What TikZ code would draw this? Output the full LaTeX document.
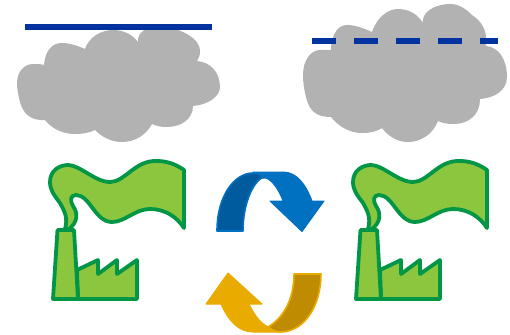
\documentclass[tikz,border=0pt]{standalone}
\usepackage{xcolor}
\definecolor{cloudgray}{RGB}{178,178,178}
\definecolor{capblue}{RGB}{0,51,160}
\definecolor{plantgreen}{RGB}{140,198,63}
\definecolor{plantedge}{RGB}{0,150,70}
\definecolor{arrowblue}{RGB}{0,112,192}
\definecolor{arrowbluedark}{RGB}{0,90,158}
\definecolor{arrowgold}{RGB}{234,171,0}
\definecolor{arrowgolddark}{RGB}{191,139,0}
\tikzset{
  cloudfill/.style={fill=cloudgray},
  capline/.style={draw=capblue,line width=6pt},
  plantpart/.style={draw=plantedge,fill=plantgreen,line width=3.8pt,line join=round},
  bluefront/.style={fill=arrowblue,draw=arrowblue,line width=1pt,line join=round},
  blueback/.style={fill=arrowbluedark,draw=arrowblue,line width=1.6pt,line join=round},
  goldfront/.style={fill=arrowgold,draw=arrowgold,line width=1pt,line join=round},
  goldback/.style={fill=arrowgolddark,draw=arrowgold,line width=1.6pt,line join=round},
}
\begin{document}
\begin{tikzpicture}[x=1pt,y=-1pt]
  \useasboundingbox (0,0) rectangle (510,334);
  % clouds
  \fill[cloudfill] (44,65) .. controls (45,52) and (51,43) .. (62,43)
    .. controls (70,43) and (78,46) .. (85,49) .. controls (89,37) and (101,30) .. (113,30)
    .. controls (124,30) and (133,35) .. (138,42) .. controls (137,32) and (147,27) .. (157,27)
    .. controls (170,26) and (181,30) .. (190,36) .. controls (200,42) and (203,52) .. (197,61)
    .. controls (210,62) and (220,72) .. (220,87) .. controls (220,97) and (207,105) .. (193,106)
    .. controls (193,119) and (181,127) .. (167,127) .. controls (161,127) and (156,126) .. (152,124)
    .. controls (146,135) and (135,142) .. (122,142) .. controls (111,142) and (102,137) .. (95,130)
    .. controls (89,133) and (82,134) .. (75,134) .. controls (63,134) and (52,129) .. (45,120)
    .. controls (30,121) and (23,113) .. (20,102) .. controls (18,94) and (17,88) .. (17,83)
    .. controls (17,72) and (24,64) .. (33,64) .. controls (37,64) and (41,64) .. (44,65) -- cycle;
  \fill[cloudfill] (331,50) .. controls (331,40) and (335,25) .. (347,25)
    .. controls (356,25) and (365,29) .. (372,32) .. controls (377,17) and (388,9) .. (398,9)
    .. controls (410,9) and (418,15) .. (423,23) .. controls (421,13) and (434,4) .. (450,4)
    .. controls (460,4) and (467,10) .. (472,15) .. controls (481,21) and (488,30) .. (486,46)
    .. controls (499,47) and (507,60) .. (507,77) .. controls (507,90) and (495,98) .. (480,99)
    .. controls (480,114) and (470,124) .. (453,124) .. controls (447,124) and (442,123) .. (438,121)
    .. controls (433,134) and (421,142) .. (408,142) .. controls (397,142) and (388,136) .. (382,128)
    .. controls (376,132) and (369,133) .. (362,133) .. controls (350,133) and (339,127) .. (331,117)
    .. controls (315,117) and (309,110) .. (306,97) .. controls (304,89) and (303,82) .. (303,75)
    .. controls (303,60) and (311,50) .. (320,50) .. controls (324,50) and (328,50) .. (331,50) -- cycle;
  \draw[capline] (25,27.5) -- (212,27.5);
  \draw[capline,dash pattern=on 24.5pt off 17.5pt] (311.5,41) -- (498,41);
  % factories
  \foreach \dx in {0,303} {
    \begin{scope}[xshift=\dx pt]
      \draw[plantpart] (65,229) .. controls (68,218) and (65,212) .. (60,203)
        .. controls (54,195) and (50,190) .. (50,182) .. controls (50,170) and (60,165) .. (68,165)
        .. controls (80,165) and (95,182) .. (110,182) .. controls (125,182) and (135,160) .. (157,161)
        .. controls (168,161) and (177,165) .. (184,170) -- (184,228)
        .. controls (177,217) and (165,209) .. (150,209) .. controls (135,209) and (125,222) .. (112,222)
        .. controls (95,222) and (90,195) .. (76,195) .. controls (70,195) and (70,201) .. (73,206)
        .. controls (78,213) and (78,222) .. (69,229) -- cycle;
      \draw[plantpart] (77,270) -- (98,260) -- (98,274) -- (117,260) -- (117,274) -- (137,260)
        -- (137,299) -- (78,299) -- cycle;
      \draw[plantpart] (57.5,230) -- (74,230) -- (78,299) -- (53,299) -- cycle;
    \end{scope}
  }
  % arrows
  \fill[bluefront] (253,172) -- (283,172) .. controls (297,172) and (306,185) .. (312,201) -- (324,201)
    -- (302,231.5) -- (270,201) -- (283,201) .. controls (279,190) and (273,181) .. (266,178) -- (255,178) -- cycle;
  \filldraw[blueback] (217,231) .. controls (217,195) and (235,173) .. (253,173)
    .. controls (258,173) and (261,174) .. (263,177) .. controls (252,183) and (243,205) .. (243,231) -- cycle;
  \fill[goldfront] (228,273) -- (206,304) -- (221,304) .. controls (228,320) and (238,332) .. (253,332)
    -- (282,332) -- (268,327) .. controls (259,322) and (254,314) .. (249,304) -- (262,304) -- cycle;
  \filldraw[goldback] (294,274) -- (321,274) .. controls (321,305) and (305,332) .. (280,332)
    .. controls (276,332) and (272,330) .. (268,327) .. controls (283,318) and (294,300) .. (294,274) -- cycle;
\end{tikzpicture}
\end{document}
